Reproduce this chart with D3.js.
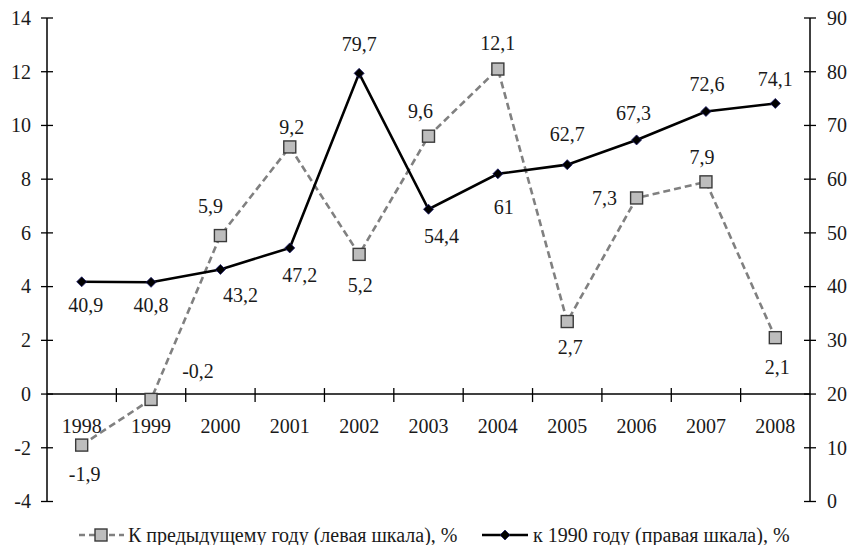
<!DOCTYPE html>
<html><head><meta charset="utf-8">
<script src="https://cdn.jsdelivr.net/npm/d3@7/dist/d3.min.js"></script>
<style>
html,body{margin:0;padding:0;background:#fff;font-family:'Liberation Serif',serif;}
svg text{font-family:'Liberation Serif',serif !important;}
</style></head>
<body><svg id="c" width="851" height="545"></svg>
<script>
const years = ["1998","1999","2000","2001","2002","2003","2004","2005","2006","2007","2008"];
const prevYear = [-1.9,-0.2,5.9,9.2,5.2,9.6,12.1,2.7,7.3,7.9,2.1];
const to1990 = [40.9,40.8,43.2,47.2,79.7,54.4,61,62.7,67.3,72.6,74.1];
const leftTicks = [-4,-2,0,2,4,6,8,10,12,14];
const rightTicks = [0,10,20,30,40,50,60,70,80,90];
const seriesNames = ["К предыдущему году (левая шкала), %","к 1990 году (правая шкала), %"];

// label placement offsets (layout)
const prevOff = [[3,29],[47,-28],[-10,-29],[2,-20],[1,31],[-8,-25],[0,-26],[3,26],[-32,0],[-4,-25],[2,30]];
const o1990Off = [[4,23],[0,23],[20,26],[10,27],[0,-29],[13,27],[6,33],[0,-30],[-3,-27],[1,-27],[0,-24]];

const fmt = v => String(v).replace(".", ",");
const svg = d3.select("#c");
const TXT = "#1a1a1a";
const L = 47, R = 810, T = 18, B = 501.5;
const x = d3.scaleBand().domain(years).range([L,R]);
const yL = d3.scaleLinear().domain([-4,14]).range([B,T]);
const yR = d3.scaleLinear().domain([0,90]).range([B,T]);
const fs = 20;

function txt(g, X, Y, s, anchor){
  return g.append("text").attr("x",X).attr("y",Y+fs*0.34).attr("text-anchor",anchor||"middle")
    .attr("fill",TXT).attr("font-family","Liberation Serif")
    .attr("style","font-family:'Liberation Serif',serif !important;font-size:"+fs+"px").text(s);
}

// left axis
const ga = svg.append("g");
ga.append("line").attr("x1",L).attr("x2",L).attr("y1",yL(14)).attr("y2",yL(-4)).attr("stroke","#000").attr("stroke-width",1.5);
leftTicks.forEach(t=>{
  ga.append("line").attr("x1",L-6).attr("x2",L+6).attr("y1",yL(t)).attr("y2",yL(t)).attr("stroke","#000").attr("stroke-width",1.3);
  txt(ga, L-16, yL(t), t, "end");
});
// right axis
ga.append("line").attr("x1",R).attr("x2",R).attr("y1",yR(90)).attr("y2",yR(0)).attr("stroke","#000").attr("stroke-width",1.5);
rightTicks.forEach(t=>{
  ga.append("line").attr("x1",R-6).attr("x2",R+6).attr("y1",yR(t)).attr("y2",yR(t)).attr("stroke","#000").attr("stroke-width",1.3);
  txt(ga, R+17, yR(t), t, "start");
});
// x axis at zero
ga.append("line").attr("x1",L).attr("x2",R).attr("y1",yL(0)).attr("y2",yL(0)).attr("stroke","#000").attr("stroke-width",1.5);
years.forEach((yv,i)=>{
  if(i>0){
    const xx = x(yv);
    ga.append("line").attr("x1",xx).attr("x2",xx).attr("y1",yL(0)-6).attr("y2",yL(0)+8).attr("stroke","#000").attr("stroke-width",1.3);
  }
  txt(ga, x(yv)+x.bandwidth()/2, yL(0)+32, yv);
});

const cx = d => x(d)+x.bandwidth()/2;

// series 1: dashed gray squares (left)
const line1 = d3.line().x((d,i)=>cx(years[i])).y(d=>yL(d));
svg.append("path").datum(prevYear).attr("d",line1).attr("fill","none").attr("stroke","#808080").attr("stroke-width",2.6).attr("stroke-dasharray","7,4");
// series 2: black line diamonds (right)
const line2 = d3.line().x((d,i)=>cx(years[i])).y(d=>yR(d));
svg.append("path").datum(to1990).attr("d",line2).attr("fill","none").attr("stroke","#000").attr("stroke-width",2.6);

const sq = 12;
svg.selectAll(".sq").data(prevYear).enter().append("rect")
  .attr("x",(d,i)=>cx(years[i])-sq/2).attr("y",d=>yL(d)-sq/2).attr("width",sq).attr("height",sq)
  .attr("fill","#bdbdbd").attr("stroke","#3a3a3a").attr("stroke-width",1.4);
const dm = 5;
svg.selectAll(".dm").data(to1990).enter().append("path")
  .attr("d",(d,i)=>{const X=cx(years[i]),Y=yR(d);return `M${X},${Y-dm}L${X+dm},${Y}L${X},${Y+dm}L${X-dm},${Y}Z`;})
  .attr("fill","#000").attr("stroke","#1a1a6a").attr("stroke-width",0.8);

// labels
prevYear.forEach((d,i)=>{ txt(svg, cx(years[i])+prevOff[i][0], yL(d)+prevOff[i][1], fmt(d)); });
to1990.forEach((d,i)=>{ txt(svg, cx(years[i])+o1990Off[i][0], yR(d)+o1990Off[i][1], fmt(d)); });

// legend
const ly = 535;
const lg = svg.append("g");
lg.append("line").attr("x1",79).attr("x2",124).attr("y1",ly).attr("y2",ly).attr("stroke","#808080").attr("stroke-width",2.6).attr("stroke-dasharray","6,4");
lg.append("rect").attr("x",101-sq/2).attr("y",ly-sq/2).attr("width",sq).attr("height",sq).attr("fill","#bdbdbd").attr("stroke","#3a3a3a").attr("stroke-width",1.4);
txt(lg, 128, ly, seriesNames[0], "start");
lg.append("line").attr("x1",482).attr("x2",528).attr("y1",ly).attr("y2",ly).attr("stroke","#000").attr("stroke-width",2.6);
lg.append("path").attr("d",`M505,${ly-dm}L${505+dm},${ly}L505,${ly+dm}L${505-dm},${ly}Z`).attr("fill","#000").attr("stroke","#1a1a6a").attr("stroke-width",0.8);
txt(lg, 533, ly, seriesNames[1], "start");
</script></body></html>
